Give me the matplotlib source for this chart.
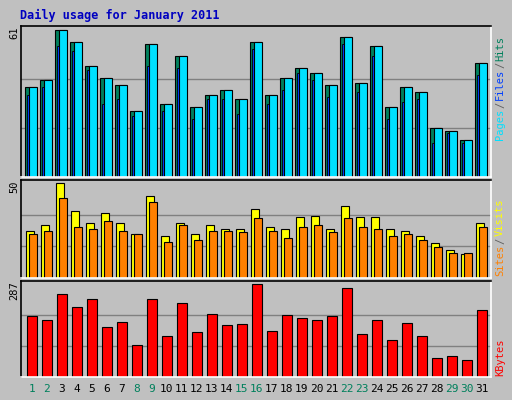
import numpy as np
import matplotlib
matplotlib.use("Agg")
from matplotlib import pyplot as plt

days = np.arange(1, 32)
hits = [37.4, 40.2, 61.0, 56.0, 46.0, 41.1, 38.2, 27.4, 55.2, 30.3, 50.2, 29.0, 34.0,
        36.0, 32.4, 56.0, 34.0, 41.1, 45.2, 43.2, 38.2, 58.1, 39.0, 54.4, 29.0, 37.4,
        35.3, 20.3, 19.1, 15.4, 47.3]
pages = hits
files = [34.0, 37.4, 54.4, 52.3, 44.4, 30.3, 32.4, 25.3, 46.0, 27.4, 45.2, 24.1, 32.4,
         32.4, 26.1, 53.1, 30.3, 36.0, 43.2, 40.2, 33.2, 55.2, 35.3, 50.2, 24.1, 31.1,
         32.4, 14.1, 18.5, 14.1, 42.3]
visits = [24.8, 28.1, 50.0, 35.3, 29.2, 34.1, 29.2, 23.2, 43.5, 22.1, 29.2, 23.2, 28.1,
          26.0, 26.0, 36.4, 27.0, 26.0, 32.0, 33.0, 26.0, 38.0, 32.0, 32.0, 26.0, 24.8,
          22.1, 18.3, 15.0, 12.9, 29.2]
sites = [23.2, 24.8, 42.4, 27.0, 26.0, 30.1, 24.8, 23.2, 40.2, 19.0, 28.1, 20.1, 24.8,
         24.8, 24.3, 31.5, 24.8, 21.0, 27.0, 28.1, 24.3, 31.5, 27.0, 26.0, 22.1, 23.2,
         20.1, 16.3, 13.0, 13.0, 27.0]
kbytes = [189, 177, 258, 218, 240, 155, 171, 98, 240, 127, 230, 139, 196, 161, 164,
          287, 142, 193, 183, 177, 189, 274, 133, 177, 114, 167, 127, 58, 64, 54, 208]
top_max, mid_max, bot_max = 61, 50, 287
weekend = {1, 2, 8, 9, 15, 16, 22, 23, 29, 30}

W, H = 512, 400
fig = plt.figure(figsize=(W / 100, H / 100), dpi=100)
fig.patch.set_facecolor("#C0C0C0")
bg = "#C0C0C0"
x0, x1 = 21, 491
xlim = (0.73, 0.73 + 470 / 15)


def panel(top, bottom, ymax_view, label_max):
    ax = fig.add_axes([x0 / W, 1 - bottom / H, (x1 - x0) / W, (bottom - top) / H])
    ax.set_facecolor(bg)
    ax.set_xlim(*xlim)
    ax.set_ylim(0, ymax_view)
    ax.set_xticks([])
    ax.set_yticks([])
    for s in ax.spines.values():
        s.set_color("white")
        s.set_linewidth(1.2)
    ax.spines["top"].set_color("black")
    ax.spines["left"].set_color("black")
    for f in (1 / 3, 2 / 3):
        ax.axhline(label_max * f, color="#808080", lw=1, zorder=0)
    return ax


# Hits / Files / Pages
ax1 = panel(26, 177, 62.8, top_max)
ax1.bar(days, hits, width=0.73, align="edge", color="#00805C", edgecolor="black", lw=0.8)
ax1.bar(days + 0.12, files, width=0.17, align="edge", color="#0040FF", edgecolor="black", lw=0.6)
ax1.bar(days + 0.29, pages, width=0.49, align="edge", color="#00E0FF", edgecolor="black", lw=0.8)

# Visits / Sites
ax2 = panel(180, 278, 51.8, mid_max)
ax2.bar(days + 0.05, visits, width=0.55, align="edge", color="#FFFF00", edgecolor="black", lw=0.8)
ax2.bar(days + 0.29, sites, width=0.49, align="edge", color="#FF8000", edgecolor="black", lw=0.8)

# KBytes
ax3 = panel(281, 377, 297, bot_max)
ax3.bar(days + 0.1, kbytes, width=0.68, align="edge", color="#FF0000", edgecolor="black", lw=0.8)

for d in days:
    ax3.text(d + 0.45, -12 / 96 * 297, str(d), ha="center", va="center", fontsize=8,
             family="DejaVu Sans Mono", color="#00805C" if d in weekend else "black")

fig.text(20 / W, 1 - 15 / H, "Daily usage for January 2011", color="#0000C0",
         fontsize=8.5, fontweight="bold", family="DejaVu Sans Mono", va="center")

for val, ypix in ((top_max, 33), (mid_max, 187), (bot_max, 291)):
    fig.text(14 / W, 1 - ypix / H, str(val), rotation=90, fontsize=7.5,
             family="DejaVu Sans Mono", ha="center", va="center")

renderer = fig.canvas.get_renderer()


def side_label(parts, y_bottom):
    y = y_bottom
    for txt, col in parts:
        t = fig.text(500 / W, y / H, txt, rotation=90, color=col, fontsize=7.5,
                     family="DejaVu Sans Mono", ha="center", va="bottom")
        y += t.get_window_extent(renderer).height + 1


side_label([("Pages", "#00E0FF"), ("/", "#606060"), ("Files", "#0040FF"),
            ("/", "#606060"), ("Hits", "#00805C")], 400 - 140)
side_label([("Sites", "#FF8000"), ("/", "#606060"), ("Visits", "#FFFF00")], 400 - 276)
side_label([("KBytes", "#FF0000")], 400 - 376)

fig.savefig("out.png", dpi=100, facecolor=fig.get_facecolor())
